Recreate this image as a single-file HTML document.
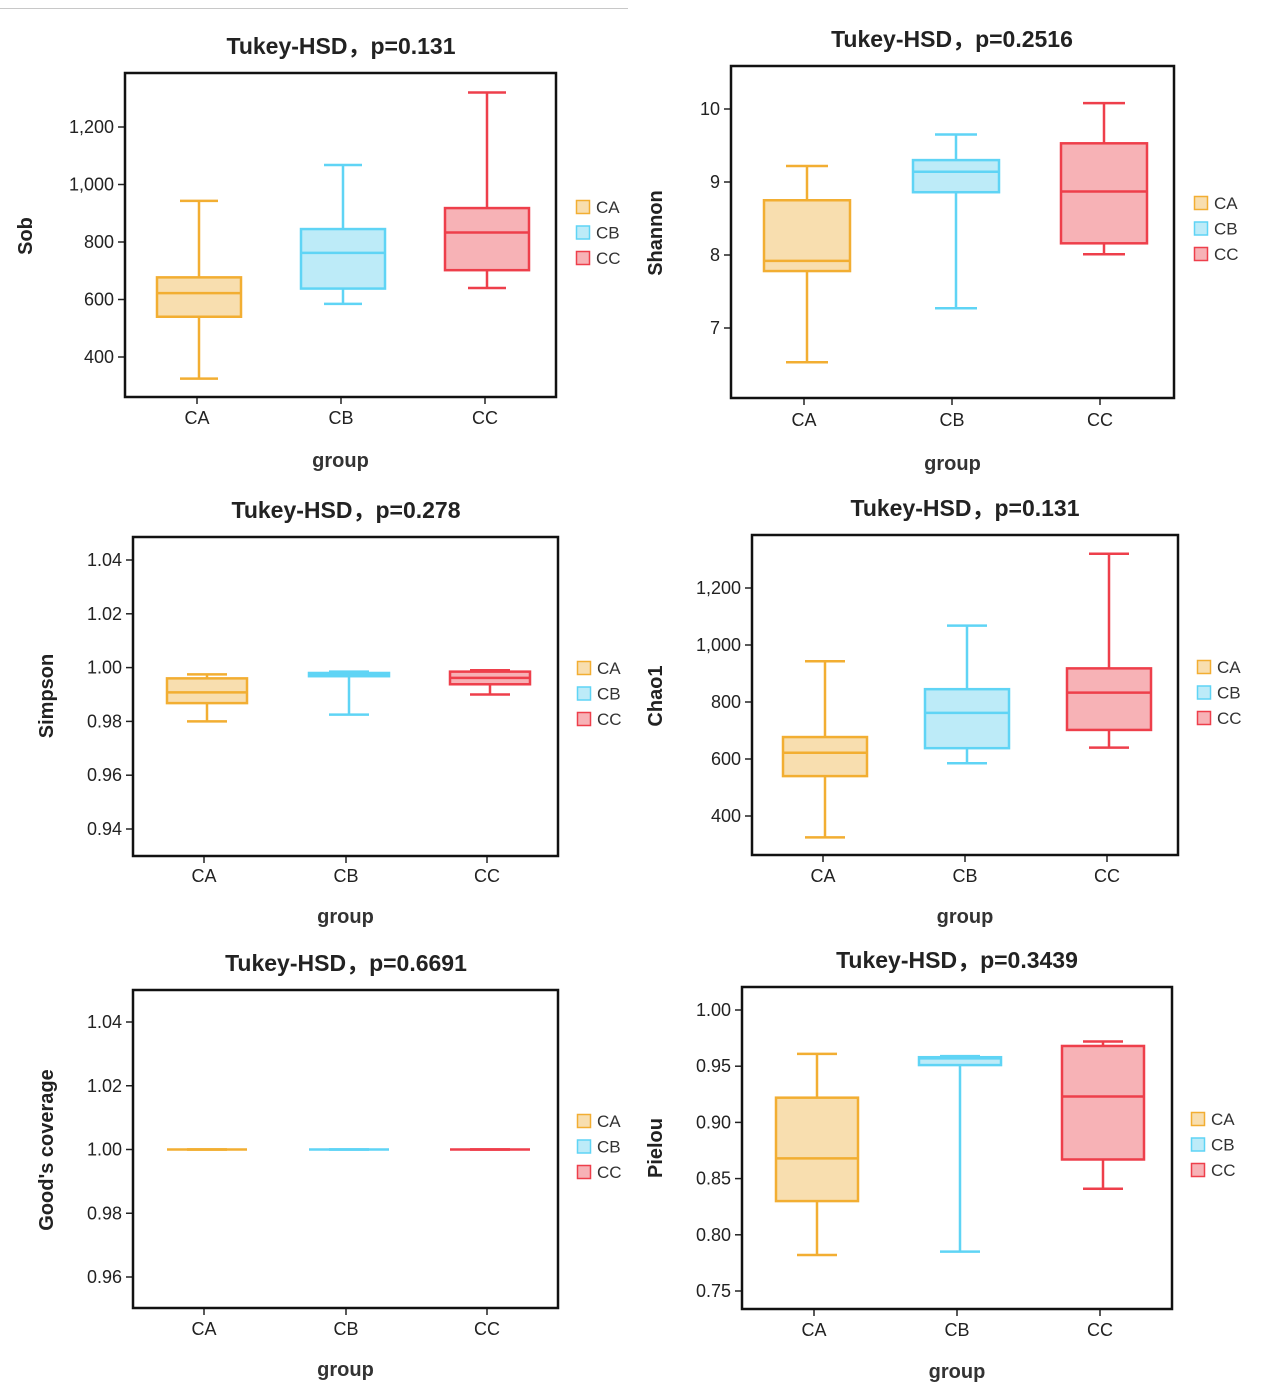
<!DOCTYPE html>
<html><head><meta charset="utf-8">
<style>
html,body{margin:0;padding:0;background:#fff;}
svg{display:block;font-family:"Liberation Sans","Noto Sans CJK SC",sans-serif;}
</style></head>
<body>
<svg id="chart" width="1263" height="1392" viewBox="0 0 1263 1392" xmlns="http://www.w3.org/2000/svg">
<line x1="0" y1="8.5" x2="628" y2="8.5" stroke="#c8c8c8" stroke-width="1"/>
</svg>
<script>
const groups = ["CA","CB","CC"];
const sobMin=[325,585,640], sobQ1=[540,638,702], sobMed=[622,762,833], sobQ3=[677,845,918], sobMax=[943,1068,1320];
const shaMin=[6.53,7.27,8.01], shaQ1=[7.78,8.86,8.16], shaMed=[7.92,9.14,8.87], shaQ3=[8.75,9.30,9.53], shaMax=[9.22,9.65,10.08];
const simMin=[0.980,0.9825,0.990], simQ1=[0.9868,0.9968,0.9938], simMed=[0.9908,0.9975,0.9962], simQ3=[0.996,0.998,0.9985], simMax=[0.9975,0.9985,0.999];
const chaMin=[325,585,640], chaQ1=[540,638,702], chaMed=[622,762,833], chaQ3=[677,845,918], chaMax=[943,1068,1320];
const gooMin=[1,1,1], gooQ1=[1,1,1], gooMed=[1,1,1], gooQ3=[1,1,1], gooMax=[1,1,1];
const pieMin=[0.782,0.785,0.841], pieQ1=[0.830,0.951,0.867], pieMed=[0.868,0.957,0.923], pieQ3=[0.922,0.958,0.968], pieMax=[0.961,0.959,0.972];
const sobTicks=[400,600,800,1000,1200], shaTicks=[7,8,9,10], simTicks=[0.94,0.96,0.98,1.00,1.02,1.04];
const chaTicks=[400,600,800,1000,1200], gooTicks=[0.96,0.98,1.00,1.02,1.04], pieTicks=[0.75,0.80,0.85,0.90,0.95,1.00];
const titles=["Tukey-HSD，p=0.131","Tukey-HSD，p=0.2516","Tukey-HSD，p=0.278","Tukey-HSD，p=0.131","Tukey-HSD，p=0.6691","Tukey-HSD，p=0.3439"];

const strokeC=["#f2ae32","#5fd4f5","#ee3f4b"], fillC=["#f8deaf","#bdebf8","#f7b2b6"];
const svg=document.getElementById('chart');
const NS="http://www.w3.org/2000/svg";
function el(tag,attrs,parent){const e=document.createElementNS(NS,tag);for(const k in attrs)e.setAttribute(k,attrs[k]);(parent||svg).appendChild(e);return e;}
function fmt(v,dec){if(dec===0)return v.toLocaleString('en-US');return v.toFixed(dec);}

const panels=[
 {key:"sob",ylabel:"Sob",L:125,T:73,R:556,B:397,t0:1200,y0:127,t1:400,y1:357,cx:[199,343,487],lx:[197,341,485],bw:84,cw:38,dec:0,title:[341,46],leg:[576,207],yl:[25,236],xly:417,gy:461,d:[sobMin,sobQ1,sobMed,sobQ3,sobMax],ticks:sobTicks},
 {key:"shannon",ylabel:"Shannon",L:731,T:66,R:1174,B:398,t0:10,y0:109,t1:7,y1:328,cx:[807,956,1104],lx:[804,952,1100],bw:86,cw:42,dec:0,title:[952,39],leg:[1194,203],yl:[655,233],xly:419,gy:464,d:[shaMin,shaQ1,shaMed,shaQ3,shaMax],ticks:shaTicks},
 {key:"simpson",ylabel:"Simpson",L:133,T:537,R:558,B:856,t0:1.04,y0:560,t1:0.94,y1:829,cx:[207,349,490],lx:[204,346,487],bw:80,cw:40,dec:2,title:[346,510],leg:[577,668],yl:[46,696],xly:875,gy:917,d:[simMin,simQ1,simMed,simQ3,simMax],ticks:simTicks},
 {key:"chao1",ylabel:"Chao1",L:752,T:535,R:1178,B:855,t0:1200,y0:588,t1:400,y1:816,cx:[825,967,1109],lx:[823,965,1107],bw:84,cw:40,dec:0,title:[965,508],leg:[1197,667],yl:[655,696],xly:875,gy:917,d:[chaMin,chaQ1,chaMed,chaQ3,chaMax],ticks:chaTicks},
 {key:"goods-coverage",ylabel:"Good's coverage",L:133,T:990,R:558,B:1308,t0:1.04,y0:1022,t1:0.96,y1:1277,cx:[207,349,490],lx:[204,346,487],bw:80,cw:40,dec:2,title:[346,963],leg:[577,1121],yl:[46,1150],xly:1328,gy:1370,d:[gooMin,gooQ1,gooMed,gooQ3,gooMax],ticks:gooTicks},
 {key:"pielou",ylabel:"Pielou",L:742,T:987,R:1172,B:1309,t0:1.00,y0:1010,t1:0.75,y1:1291,cx:[817,960,1103],lx:[814,957,1100],bw:82,cw:40,dec:2,title:[957,960],leg:[1191,1119],yl:[655,1148],xly:1329,gy:1372,d:[pieMin,pieQ1,pieMed,pieQ3,pieMax],ticks:pieTicks}
];

panels.forEach((p,pi)=>{
  const g=el('g',{});
  
  
  const ys=v=>p.y0+(v-p.t0)*(p.y1-p.y0)/(p.t1-p.t0);
  const t=el('text',{x:p.title[0],y:p.title[1]+8,'text-anchor':'middle','font-size':23,'font-weight':'bold',fill:'#222'},g);
  t.textContent=titles[pi];
  
  
  p.ticks.forEach(v=>{
    const y=ys(v);
    el('line',{x1:p.L-7,x2:p.L,y1:y,y2:y,stroke:'#222','stroke-width':1.5},g);
    const tx=el('text',{x:p.L-11,y:y+6,'text-anchor':'end','font-size':18,fill:'#222'},g);
    tx.textContent=fmt(v,p.dec);
    
    
  });
  groups.forEach((gname,i)=>{
    const c=p.cx[i], mn=ys(p.d[0][i]), q1=ys(p.d[1][i]), md=ys(p.d[2][i]), q3=ys(p.d[3][i]), mx=ys(p.d[4][i]);
    const bg=el('g',{stroke:strokeC[i],'stroke-width':2.5,fill:'none'},g);
    
    
    el('line',{x1:c,x2:c,y1:mx,y2:q3},bg);
    el('line',{x1:c,x2:c,y1:q1,y2:mn},bg);
    el('line',{x1:c-p.cw/2,x2:c+p.cw/2,y1:mx,y2:mx},bg);
    el('line',{x1:c-p.cw/2,x2:c+p.cw/2,y1:mn,y2:mn},bg);
    el('rect',{x:c-p.bw/2,y:q3,width:p.bw,height:Math.max(q1-q3,0),fill:fillC[i]},bg);
    el('line',{x1:c-p.bw/2,x2:c+p.bw/2,y1:md,y2:md},bg);
    const lx=p.lx[i];
    el('line',{x1:lx,x2:lx,y1:p.B,y2:p.B+7,stroke:'#222','stroke-width':1.5},g);
    const xl=el('text',{x:lx,y:p.xly+7,'text-anchor':'middle','font-size':18,fill:'#222'},g);
    xl.textContent=gname;
    
    
    const ly=p.leg[1]+i*25.5;
    const lr=el('rect',{x:p.leg[0]+0.5,y:ly-6.5,width:13,height:13,fill:fillC[i],stroke:strokeC[i],'stroke-width':1.5},g);
    
    
    const lt=el('text',{x:p.leg[0]+20,y:ly+6,'font-size':17,fill:'#333'},g);
    lt.textContent=gname;
    
    
  });
  const fr=el('rect',{x:p.L,y:p.T,width:p.R-p.L,height:p.B-p.T,fill:'none',stroke:'#111','stroke-width':2.5},g);
  
  
  const yl=el('text',{x:p.yl[0],y:p.yl[1],'text-anchor':'middle','font-size':20,'font-weight':'bold',fill:'#222',transform:`rotate(-90 ${p.yl[0]} ${p.yl[1]}) translate(0 7)`},g);
  yl.textContent=p.ylabel;
  
  
  const gx=el('text',{x:(p.L+p.R)/2,y:p.gy+6,'text-anchor':'middle','font-size':20,'font-weight':'bold',fill:'#333'},g);
  gx.textContent='group';
  
  
});
</script>
</body></html>
